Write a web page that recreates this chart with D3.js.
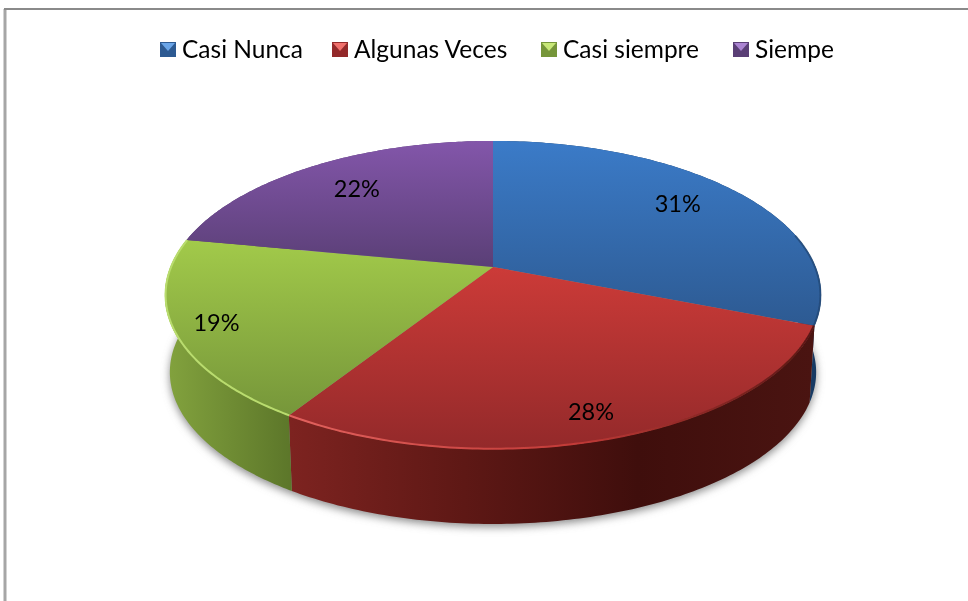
<!DOCTYPE html>
<html>
<head>
<meta charset="utf-8">
<title>Pie</title>
<script src="https://cdn.jsdelivr.net/npm/d3@7"></script>
<style>
  html, body { margin: 0; padding: 0; background: #fff; }
  svg { display: block; }
  text { font-family: Lato, "Open Sans", sans-serif; fill: #000; }
</style>
</head>
<body>
<div id="chart"></div>
<script>
'use strict';

// chart data
var categories = ['Casi Nunca', 'Algunas Veces', 'Casi siempre', 'Siempe'];
var percents = [31, 28, 19, 22];

// slice colours, top face
var topLight = ['#3b7bc8', '#cc3b38', '#a2ca4a', '#8356aa'];
var topDark = ['#2d5a92', '#93292a', '#76963a', '#5a3f76'];
var rimColor = ['#1d3f6b', '#e2625e', '#b9dc6e', '#8356aa'];
var swatchLight = ['#6aa5e8', '#f0706c', '#c8e878', '#ab84d2'];

// wall colours, left to right
var wallStops = [
  ['#173a63', '#173a63'],
  ['#7d2320', '#5e1815', '#3f0e0c', '#4a1411'],
  ['#83a33e', '#5b7529'],
  ['#5a3f76', '#5a3f76']
];

// layout
var width = 968, height = 601;
var centerX = 493, centerY = 267;
var radiusX = 322.6, radiusY = 149, tilt = 0.1818;
var wallDrop = 77.6, wallShrink = 0.985;
var labelRadius = [0.745, 0.84, 0.875, 0.73];
var labelNudge = [3, 14, 9, 6];
var legendSwatchX = [160, 332, 541, 733];

var svg = d3.select('#chart').append('svg')
  .attr('width', width)
  .attr('height', height);
var defs = svg.append('defs');

defs.append('filter').attr('id', 'shadow')
  .attr('x', '-10%').attr('y', '-10%').attr('width', '120%').attr('height', '120%')
  .append('feGaussianBlur').attr('stdDeviation', 4);
defs.append('filter').attr('id', 'soft')
  .append('feGaussianBlur').attr('stdDeviation', 0.7);
defs.append('filter').attr('id', 'textSoft')
  .attr('x', '-5%').attr('y', '-20%').attr('width', '110%').attr('height', '140%')
  .append('feGaussianBlur').attr('stdDeviation', 0.3);

// tilted circle, angle 0 at the top, going clockwise
function project(angle, r, shrink, drop) {
  var u = Math.sin(angle) * r;
  var v = -Math.cos(angle) * r;
  var d = 1 - tilt * v;
  return [
    centerX + shrink * radiusX * u / d,
    centerY + drop + shrink * radiusY * v / d
  ];
}

var pie = d3.pie().sort(null).startAngle(0).endAngle(2 * Math.PI);
var slices = pie(percents);
var line = d3.line();

function rim(a0, a1, shrink, drop) {
  return d3.range(0, 121).map(function(i) {
    return project(a0 + (a1 - a0) * i / 120, 1, shrink, drop);
  });
}

// frame
svg.append('path')
  .attr('d', line([[5, height], [5, 9]]))
  .attr('stroke', '#a6a6a6')
  .attr('stroke-width', 3);
svg.append('path')
  .attr('d', line([[4, 9], [width, 9]]))
  .attr('stroke', '#8a8a8a')
  .attr('stroke-width', 2);

// gradients
slices.forEach(function(d, i) {
  var top = defs.append('linearGradient')
    .attr('id', 'top' + i)
    .attr('x1', 0).attr('x2', 0).attr('y1', 0).attr('y2', 1);
  top.append('stop').attr('offset', 0).attr('stop-color', topLight[i]);
  top.append('stop').attr('offset', 1).attr('stop-color', topDark[i]);

  var wall = defs.append('linearGradient')
    .attr('id', 'wall' + i)
    .attr('gradientUnits', 'userSpaceOnUse')
    .attr('x1', i === 2 ? 165 : 290).attr('x2', i === 2 ? 295 : 812)
    .attr('y1', 0).attr('y2', 0);
  wallStops[i].forEach(function(c, j) {
    wall.append('stop')
      .attr('offset', j / (wallStops[i].length - 1))
      .attr('stop-color', c);
  });
});

var rimFade = defs.append('linearGradient')
  .attr('id', 'rimFade')
  .attr('gradientUnits', 'userSpaceOnUse')
  .attr('x1', 289).attr('x2', 812).attr('y1', 0).attr('y2', 0);
rimFade.append('stop').attr('offset', 0).attr('stop-color', rimColor[1]);
rimFade.append('stop').attr('offset', 0.55).attr('stop-color', '#c23a37');
rimFade.append('stop').attr('offset', 1).attr('stop-color', '#5a1815');

// shadow under the pie
svg.append('path')
  .attr('d', line(rim(0, 2 * Math.PI, wallShrink, wallDrop + 3)) + 'Z')
  .attr('fill', '#8a8a8a')
  .attr('filter', 'url(#shadow)');

// walls as strips so the outline follows the tangent at the sides
svg.append('g').selectAll('path')
  .data(slices)
  .enter()
  .append('path')
  .attr('d', function(d) {
    var upper = rim(d.startAngle, d.endAngle, 1, 0);
    var lower = rim(d.startAngle, d.endAngle, wallShrink, wallDrop);
    return d3.range(120).map(function(i) {
      return line([upper[i], upper[i + 1], lower[i + 1], lower[i]]) + 'Z';
    }).join('');
  })
  .attr('fill', function(d, i) { return 'url(#wall' + i + ')'; });

// top faces
svg.append('g').selectAll('path')
  .data(slices)
  .enter()
  .append('path')
  .attr('d', function(d) {
    return line([[centerX, centerY]].concat(rim(d.startAngle, d.endAngle, 1, 0))) + 'Z';
  })
  .attr('fill', function(d, i) { return 'url(#top' + i + ')'; });

// lit edge of the top faces, blue only darkens on its right side
svg.append('g').selectAll('path')
  .data(slices.slice(0, 3))
  .enter()
  .append('path')
  .attr('d', function(d, i) {
    return line(rim(i === 0 ? d.startAngle + 1.35 : d.startAngle, d.endAngle, 0.998, 0));
  })
  .attr('fill', 'none')
  .attr('stroke', function(d, i) { return i === 1 ? 'url(#rimFade)' : rimColor[i]; })
  .attr('stroke-opacity', function(d, i) { return i === 0 ? 0.6 : 1; })
  .attr('stroke-width', 2)
  .attr('filter', 'url(#soft)');

// percent labels
svg.append('g').selectAll('text')
  .data(slices)
  .enter()
  .append('text')
  .attr('text-anchor', 'middle')
  .attr('font-size', 23.5)
  .attr('filter', 'url(#textSoft)')
  .attr('x', function(d, i) {
    return project((d.startAngle + d.endAngle) / 2, labelRadius[i], 1, 0)[0];
  })
  .attr('y', function(d, i) {
    return project((d.startAngle + d.endAngle) / 2, labelRadius[i], 1, 0)[1] + labelNudge[i];
  })
  .text(function(d) { return d.value + '%'; });

// legend
var legend = svg.append('g').selectAll('g')
  .data(categories)
  .enter()
  .append('g')
  .attr('transform', function(d, i) { return 'translate(' + legendSwatchX[i] + ',42)'; });

legend.append('rect')
  .attr('width', 16).attr('height', 15)
  .attr('fill', function(d, i) { return topDark[i]; });
legend.append('path')
  .attr('d', line([[1, 1], [15, 1], [8, 9]]) + 'Z')
  .attr('fill', function(d, i) { return swatchLight[i]; });
legend.append('text')
  .attr('x', 22)
  .attr('y', 16)
  .attr('font-size', 24.5)
  .attr('filter', 'url(#textSoft)')
  .text(function(d) { return d; });
</script>
</body>
</html>
